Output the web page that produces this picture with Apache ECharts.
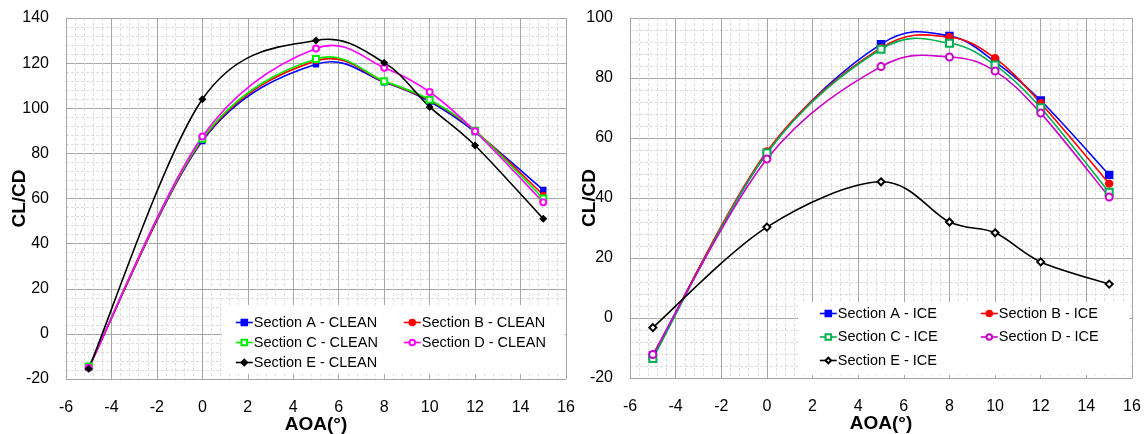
<!DOCTYPE html>
<html>
<head>
<meta charset="utf-8">
<script src="https://cdn.jsdelivr.net/npm/echarts@6/dist/echarts.min.js"></script>
<style>
  html, body { margin: 0; padding: 0; background: #fff; }
  #chart { width: 1147px; height: 434px; }
</style>
</head>
<body>
<div id="chart"></div>
<script>
// Angle of attack (deg) at which every section was evaluated
const aoa = [-5, 0, 5, 8, 10, 12, 15];

// Lift-to-drag ratio, clean blade
const cleanA = [-15, 85.5, 119.5, 111.5, 103, 89.5, 63.8];
const cleanB = [-15, 86, 121, 111.8, 103.5, 90, 61.6];
const cleanC = [-14.5, 86.5, 121.8, 112, 103.8, 90, 60];
const cleanD = [-15, 87.5, 126.5, 118, 107.2, 89.8, 58.3];
const cleanE = [-15.5, 104, 130, 120.2, 100.6, 83.5, 51];

// Lift-to-drag ratio, iced blade
const iceA = [-12.5, 55, 91.3, 94, 85.4, 72.5, 47.7];
const iceB = [-13, 55.5, 90, 93.6, 86.6, 71.6, 44.8];
const iceC = [-13.5, 55, 89.6, 91.6, 84.3, 70.1, 41.9];
const iceD = [-12.2, 53, 83.8, 87, 82.3, 68.3, 40.3];
const iceE = [-3.2, 30.3, 45.4, 32, 28.4, 18.7, 11.3];

// Axis ranges (tick labels follow from these)
const xRange = { min: -6, max: 16, step: 2 };
const yCleanRange = { min: -20, max: 140, step: 20 };
const yIceRange = { min: -20, max: 100, step: 20 };

const FONT = '"Liberation Sans", Arial, sans-serif';
const LINE_W = 1.6;

const pairs = (vals) => aoa.map((x, i) => [x, vals[i]]);

// Cubic Catmull-Rom spline through pixel points, as SVG path data
function splinePath(pts) {
  let d = 'M' + pts[0][0] + ',' + pts[0][1];
  for (let i = 0; i < pts.length - 1; i++) {
    const p0 = pts[Math.max(i - 1, 0)];
    const p1 = pts[i];
    const p2 = pts[i + 1];
    const p3 = pts[Math.min(i + 2, pts.length - 1)];
    const c1x = p1[0] + (p2[0] - p0[0]) / 6, c1y = p1[1] + (p2[1] - p0[1]) / 6;
    const c2x = p2[0] - (p3[0] - p1[0]) / 6, c2y = p2[1] - (p3[1] - p1[1]) / 6;
    d += ' C' + c1x + ',' + c1y + ' ' + c2x + ',' + c2y + ' ' + p2[0] + ',' + p2[1];
  }
  return d;
}

// Smoothed curve: positions come from the axes via api.coord
function curveSeries(vals, color, idx) {
  return {
    type: 'custom',
    coordinateSystem: 'cartesian2d',
    xAxisIndex: idx,
    yAxisIndex: idx,
    data: [pairs(vals)[0]],
    silent: true,
    z: 2,
    renderItem: function (params, api) {
      const pts = aoa.map((x, i) => api.coord([x, vals[i]]));
      return {
        type: 'path',
        shape: { pathData: splinePath(pts) },
        style: { fill: null, stroke: color, lineWidth: LINE_W }
      };
    }
  };
}

// Markers (and legend entry) for one section
function markerSeries(name, vals, color, symbol, size, idx) {
  return {
    name: name,
    type: 'line',
    xAxisIndex: idx,
    yAxisIndex: idx,
    data: pairs(vals),
    symbol: symbol,
    symbolSize: size,
    showSymbol: true,
    lineStyle: { color: color, width: LINE_W, opacity: 0 },
    itemStyle: { color: color, borderColor: color, borderWidth: 1.4 },
    emphasis: { disabled: true },
    z: 3
  };
}

function makeX(idx) {
  return {
    type: 'value',
    gridIndex: idx,
    min: xRange.min, max: xRange.max, interval: xRange.step,
    name: 'AOA(°)',
    nameLocation: 'middle',
    nameGap: 36,
    nameMoveOverlap: false,
    nameTextStyle: { fontFamily: FONT, fontSize: 19, fontWeight: 'bold', color: '#000' },
    axisLine: { show: true, onZero: false, lineStyle: { color: '#a6a6a6', width: 1 } },
    axisTick: { show: false },
    minorTick: { show: false, splitNumber: 5 },
    axisLabel: { fontFamily: FONT, fontSize: 16, color: '#000', margin: 21 },
    splitLine: { show: true, lineStyle: { color: '#a6a6a6', width: 1 } },
    minorSplitLine: { show: true, lineStyle: { color: '#dcdcdc', width: 1, type: [3, 2] } }
  };
}

function makeY(idx, range, gap) {
  return {
    type: 'value',
    gridIndex: idx,
    min: range.min, max: range.max, interval: range.step,
    name: 'CL/CD',
    nameLocation: 'middle',
    nameGap: gap,
    nameMoveOverlap: false,
    nameTextStyle: { fontFamily: FONT, fontSize: 19, fontWeight: 'bold', color: '#000' },
    axisLine: { show: true, onZero: false, lineStyle: { color: '#a6a6a6', width: 1 } },
    axisTick: { show: false },
    minorTick: { show: false, splitNumber: 5 },
    axisLabel: { fontFamily: FONT, fontSize: 16, color: '#000', margin: 17 },
    splitLine: { show: true, lineStyle: { color: '#a6a6a6', width: 1 } },
    minorSplitLine: { show: true, lineStyle: { color: '#dcdcdc', width: 1, type: [3, 2] } }
  };
}

function makeLegend(items, left, top, gap) {
  return {
    orient: 'vertical',
    left: left,
    top: top,
    padding: 0,
    itemGap: gap,
    itemWidth: 17,
    itemHeight: 7,
    data: items.map(it => ({ name: it.name, lineStyle: { color: it.color, width: LINE_W, opacity: 1 } })),
    selectedMode: false,
    textStyle: { fontFamily: FONT, fontSize: 14.5, color: '#000', padding: [0, 0, 0, -4] }
  };
}

const cleanNames = ['Section A - CLEAN', 'Section B - CLEAN', 'Section C - CLEAN', 'Section D - CLEAN', 'Section E - CLEAN'];
const iceNames = ['Section A - ICE', 'Section B - ICE', 'Section C - ICE', 'Section D - ICE', 'Section E - ICE'];

const cleanDefs = [
  { name: cleanNames[0], vals: cleanA, color: '#0000ff', symbol: 'rect', size: 5 },
  { name: cleanNames[1], vals: cleanB, color: '#ff0000', symbol: 'circle', size: 5 },
  { name: cleanNames[2], vals: cleanC, color: '#00ee00', symbol: 'emptyRect', size: 6 },
  { name: cleanNames[3], vals: cleanD, color: '#ff00ff', symbol: 'emptyCircle', size: 6 },
  { name: cleanNames[4], vals: cleanE, color: '#000000', symbol: 'diamond', size: 6 }
];
const iceDefs = [
  { name: iceNames[0], vals: iceA, color: '#0000ff', symbol: 'rect', size: 7 },
  { name: iceNames[1], vals: iceB, color: '#ff0000', symbol: 'circle', size: 7 },
  { name: iceNames[2], vals: iceC, color: '#00b050', symbol: 'emptyRect', size: 7 },
  { name: iceNames[3], vals: iceD, color: '#cc00cc', symbol: 'emptyCircle', size: 7 },
  { name: iceNames[4], vals: iceE, color: '#000000', symbol: 'emptyDiamond', size: 7 }
];

const series = [];
[cleanDefs, iceDefs].forEach((defs, idx) => {
  defs.forEach(d => series.push(curveSeries(d.vals, d.color, idx)));
  defs.forEach(d => series.push(markerSeries(d.name, d.vals, d.color, d.symbol, d.size, idx)));
});

const chart = echarts.init(document.getElementById('chart'), null, { renderer: 'canvas' });
chart.setOption({
  animation: false,
  backgroundColor: '#fff',
  textStyle: { fontFamily: FONT },
  grid: [
    { left: 66, top: 18, width: 500, height: 361, containLabel: false, outerBoundsMode: 'none' },
    { left: 630, top: 18, width: 502, height: 360, containLabel: false, outerBoundsMode: 'none' }
  ],
  xAxis: [makeX(0), makeX(1)],
  yAxis: [makeY(0, yCleanRange, 37), makeY(1, yIceRange, 31)],
  legend: [
    makeLegend([cleanDefs[0], cleanDefs[2], cleanDefs[4]], 235, 315, 5),
    makeLegend([cleanDefs[1], cleanDefs[3]], 403, 315, 5),
    makeLegend([iceDefs[0], iceDefs[2], iceDefs[4]], 819, 306, 8.5),
    makeLegend([iceDefs[1], iceDefs[3]], 980, 306, 8.5)
  ],
  graphic: [
    { type: 'rect', z: 1, silent: true, shape: { x: 222, y: 305, width: 343, height: 69 }, style: { fill: '#fff' } },
    { type: 'rect', z: 1, silent: true, shape: { x: 798, y: 302, width: 331, height: 73 }, style: { fill: '#fff' } }
  ],
  series: series
});
</script>
</body>
</html>
